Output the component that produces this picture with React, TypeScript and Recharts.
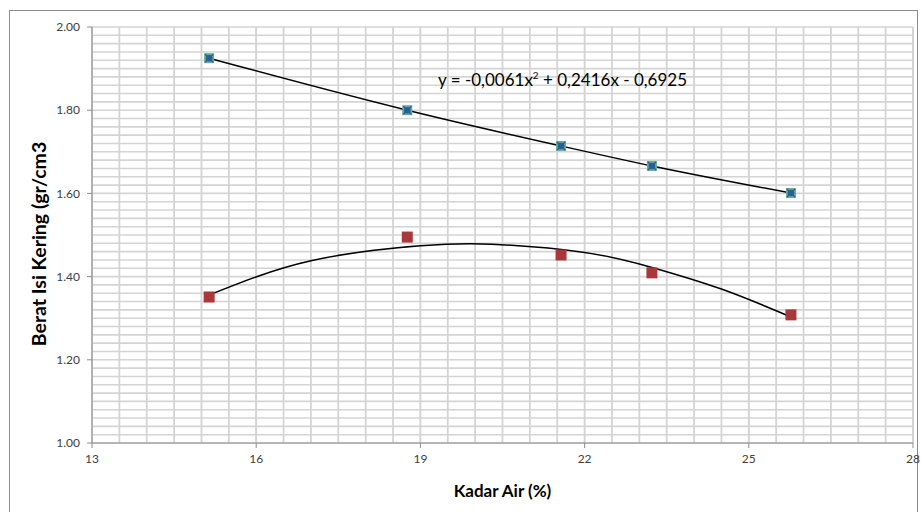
import React from "react";
import {
  ComposedChart,
  Scatter,
  Line,
  XAxis,
  YAxis,
  CartesianGrid,
  ReferenceLine,
} from "recharts";

// measured points (Kadar Air %, Berat Isi Kering gr/cm3)
const kadarAir = [15.14, 18.76, 21.57, 23.23, 25.77];
const beratAtas = [1.925, 1.8, 1.714, 1.666, 1.601];
const beratBawah = [1.351, 1.495, 1.452, 1.409, 1.308];

// trendlines
const trendAtasX = [15.14, 18.76, 21.57, 23.23, 25.77];
const trendAtasY = [1.925, 1.8, 1.714, 1.666, 1.601];
const trendBawahX = [15.14, 17.0, 19.0, 20.3, 22.0, 23.23, 24.5, 25.77];
const trendBawahY = [1.356, 1.438, 1.474, 1.478, 1.458, 1.422, 1.37, 1.303];

const xTicks = [13, 16, 19, 22, 25, 28];
const yTicks = [1.0, 1.2, 1.4, 1.6, 1.8, 2.0];

const minorX = Array.from({ length: 31 }, (_, i) => 13 + i * 0.5);
const minorY = Array.from({ length: 51 }, (_, i) => +(1 + i * 0.02).toFixed(2));

const zip = (xs: number[], ys: number[]) => xs.map((x, i) => ({ x, y: ys[i] }));

const dataAtas = zip(kadarAir, beratAtas);
const dataBawah = zip(kadarAir, beratBawah);
const lineAtas = zip(trendAtasX, trendAtasY);
const lineBawah = zip(trendBawahX, trendBawahY);

const FONT = "Lato, 'Open Sans', sans-serif";

function BlueMark(props: any) {
  const { cx, cy } = props;
  return (
    <g>
      <rect x={cx - 5} y={cy - 5} width={10} height={10} fill="#66ad8c" />
      <circle cx={cx} cy={cy} r={3.3} fill="#2a5d9c" />
      <path
        d={`M${cx - 4},${cy - 4}L${cx + 4},${cy + 4}M${cx - 4},${cy + 4}L${cx + 4},${cy - 4}`}
        stroke="#2a5d9c"
        strokeWidth={1.3}
      />
    </g>
  );
}

function RedMark(props: any) {
  const { cx, cy } = props;
  return <rect x={cx - 5.5} y={cy - 5.5} width={11} height={11} fill="#a9373b" />;
}

function XTick(props: any) {
  const { x, y, payload } = props;
  return (
    <text x={x} y={y + 12} textAnchor="middle" fontSize={12} fill="#404040" fontFamily={FONT}>
      {payload.value}
    </text>
  );
}

export default function App() {
  return (
    <div
      style={{
        position: "fixed",
        left: 0,
        top: 0,
        width: 921,
        height: 512,
        overflow: "hidden",
        background: "#fff",
        fontFamily: FONT,
      }}
    >
      <div
        style={{
          position: "absolute",
          left: 9,
          top: 10,
          width: 909,
          height: 520,
          border: "1px solid #8c8c8c",
          boxSizing: "border-box",
        }}
      />
      <ComposedChart
        width={921}
        height={496}
        margin={{ top: 19, right: 8, left: 8, bottom: 0 }}
        style={{ position: "absolute", left: 0, top: 8 }}
      >
        {minorY.map((v) => (
          <ReferenceLine key={"h" + v} y={v} stroke="#d4d4d4" strokeWidth={1.6} />
        ))}
        {minorX.map((v) => (
          <ReferenceLine key={"v" + v} x={v} stroke="#d4d4d4" strokeWidth={1.8} />
        ))}
        <CartesianGrid
          verticalValues={xTicks}
          horizontal={false}
          stroke="#a3a3a3"
          strokeWidth={1}
        />
        <XAxis
          type="number"
          dataKey="x"
          domain={[13, 28]}
          ticks={xTicks}
          interval={0}
          height={61}
          stroke="#8c8c8c"
          tickSize={5}
          tickMargin={3}
          tick={<XTick />}
          allowDuplicatedCategory={false}
          label={{
            content: ({ viewBox }: any) => (
              <text
                x={viewBox.x + viewBox.width / 2}
                y={viewBox.y + 54}
                textAnchor="middle"
                fontSize={17}
                fontWeight="bold"
                fill="#000"
                fontFamily={FONT}
              >
                Kadar Air (%)
              </text>
            ),
          }}
        />
        <YAxis
          type="number"
          dataKey="y"
          domain={[1, 2]}
          ticks={yTicks}
          width={84}
          stroke="#8c8c8c"
          tickSize={5}
          tickMargin={7}
          tickFormatter={(v: number) => v.toFixed(2)}
          tick={{ fill: "#404040", fontSize: 12, fontFamily: FONT }}
          label={{
            content: ({ viewBox }: any) => {
              const x = viewBox.x + 38;
              const y = viewBox.y + viewBox.height / 2 + 9;
              return (
                <text
                  x={x}
                  y={y}
                  transform={`rotate(-90 ${x} ${y})`}
                  textAnchor="middle"
                  fontSize={19.5}
                  fontWeight="bold"
                  fill="#000"
                  fontFamily={FONT}
                >
                  Berat Isi Kering (gr/cm3
                </text>
              );
            },
          }}
        />
        <Line
          data={lineAtas}
          dataKey="y"
          type="monotone"
          stroke="#000"
          strokeWidth={1.5}
          dot={false}
          activeDot={false}
          isAnimationActive={false}
        />
        <Line
          data={lineBawah}
          dataKey="y"
          type="natural"
          stroke="#000"
          strokeWidth={1.5}
          dot={false}
          activeDot={false}
          isAnimationActive={false}
        />
        <Scatter data={dataAtas} dataKey="y" shape={<BlueMark />} isAnimationActive={false} />
        <Scatter data={dataBawah} dataKey="y" shape={<RedMark />} isAnimationActive={false} />
      </ComposedChart>
      <div
        style={{
          position: "absolute",
          left: 438,
          top: 69,
          fontSize: 17,
          color: "#000",
          whiteSpace: "nowrap",
        }}
      >
        y = -0,0061x<sup style={{ fontSize: 10 }}>2</sup> + 0,2416x - 0,6925
      </div>
    </div>
  );
}
